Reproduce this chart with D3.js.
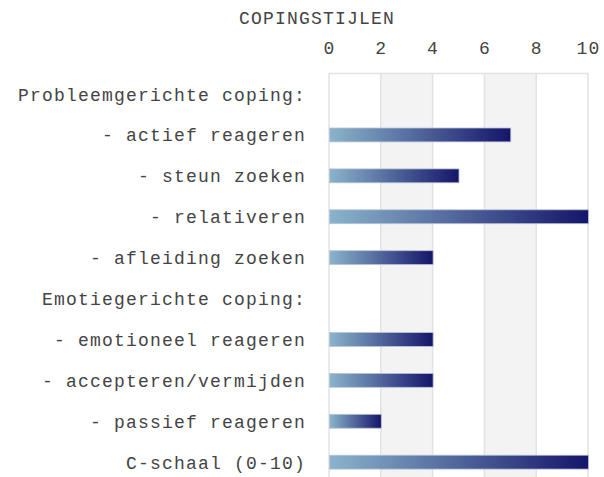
<!DOCTYPE html>
<html>
<head>
<meta charset="utf-8">
<script src="https://cdn.jsdelivr.net/npm/d3@7"></script>
<style>
  html, body { margin: 0; padding: 0; background: #fff; }
  svg { display: block; }
  text { font-family: "Liberation Mono", monospace; fill: #444; }
</style>
</head>
<body>
<svg id="chart" width="604" height="477"></svg>
<script>
const title = "COPINGSTIJLEN";
const categories = [
  "Probleemgerichte coping:",
  "- actief reageren",
  "- steun zoeken",
  "- relativeren",
  "- afleiding zoeken",
  "Emotiegerichte coping:",
  "- emotioneel reageren",
  "- accepteren/vermijden",
  "- passief reageren",
  "C-schaal (0-10)"
];
const values = [null, 7, 5, 10, 4, null, 4, 4, 2, 10];
const tickValues = [0, 2, 4, 6, 8, 10];

const FONT = 18, LS = "1.2px";
const svg = d3.select("#chart");
const pLeft = 329, pRight = 588, pTop = 73.6, pBottom = 482.6;

const x = d3.scaleLinear().domain([0, 10]).range([pLeft, pRight]);
const y = d3.scaleBand().domain(categories).range([pTop, pBottom]).paddingInner(0.66).paddingOuter(0.33);

const defs = svg.append("defs");
const grad = defs.append("linearGradient").attr("id", "barGrad")
  .attr("x1", "0%").attr("x2", "100%").attr("y1", "0%").attr("y2", "0%");
grad.append("stop").attr("offset", "0%").attr("stop-color", "#8ab4cb");
grad.append("stop").attr("offset", "100%").attr("stop-color", "#15156a");

// alternating bands
const bands = d3.pairs(tickValues).filter((d, i) => i % 2 === 1);
svg.append("g").selectAll("rect").data(bands).join("rect")
  .attr("x", d => x(d[0])).attr("y", pTop)
  .attr("width", d => x(d[1]) - x(d[0])).attr("height", pBottom - pTop)
  .attr("fill", "#f3f3f3");

// grid lines
svg.append("g").selectAll("line").data(tickValues).join("line")
  .attr("x1", d => x(d)).attr("x2", d => x(d))
  .attr("y1", pTop).attr("y2", pBottom)
  .attr("stroke", "#e2e2e2").attr("stroke-width", 1.5);

// top border
svg.append("line").attr("x1", pLeft).attr("x2", pRight).attr("y1", pTop).attr("y2", pTop)
  .attr("stroke", "#e2e2e2").attr("stroke-width", 1.5);

// axis tick labels
const axis = d3.axisTop(x).tickValues(tickValues).tickSize(0).tickPadding(0);
const axG = svg.append("g").attr("transform", `translate(0,${pTop - 20})`).call(axis);
axG.select(".domain").remove();
axG.selectAll("text").attr("font-size", FONT).attr("fill", "#444")
  .attr("font-family", "Liberation Mono")
  .style("letter-spacing", LS)
  .attr("dy", "0").attr("y", 0);

// title
svg.append("text").attr("x", 317).attr("y", 24).attr("text-anchor", "middle")
  .attr("font-size", FONT).style("letter-spacing", LS).text(title);

// category labels
svg.append("g").selectAll("text").data(categories).join("text")
  .attr("x", 306).attr("y", d => y(d) + y.bandwidth() / 2)
  .attr("dy", "0.36em").attr("text-anchor", "end")
  .attr("font-size", FONT).style("letter-spacing", LS)
  .text(d => d);

// bars
const barData = categories.map((c, i) => ({ c, v: values[i] })).filter(d => d.v != null);
svg.append("g").selectAll("rect").data(barData).join("rect")
  .attr("x", x(0) + 0.5)
  .attr("y", d => y(d.c))
  .attr("width", d => x(d.v) - x(0))
  .attr("height", y.bandwidth())
  .attr("fill", "url(#barGrad)")
  .attr("stroke", "#b8c4d8").attr("stroke-width", 0.8);
</script>
</body>
</html>
